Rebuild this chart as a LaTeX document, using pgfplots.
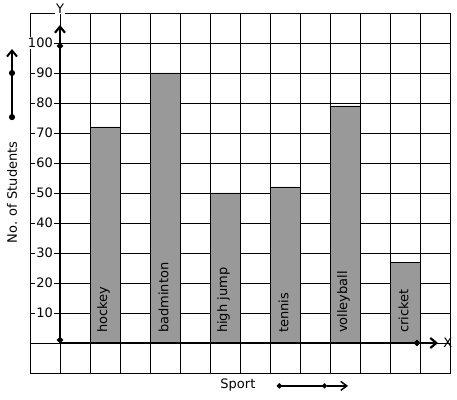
\documentclass[border=0pt]{standalone}
\usepackage{fontspec}
\setmainfont{DejaVu Sans}
\usepackage{pgfplots}
\pgfplotsset{compat=1.18}
\usetikzlibrary{arrows.meta,calc}
\definecolor{bargray}{RGB}{153,153,153}
\begin{document}
\fontsize{13pt}{15pt}\selectfont
\begin{tikzpicture}
\begin{axis}[
  scale only axis, width=420pt, height=360pt,
  xmin=-1, xmax=13, ymin=-10, ymax=110,
  xtick={-1,0,...,13}, xticklabels={},
  ytick={10,20,...,100},
  yticklabels={10,20,30,40,50,60,70,80,90,100},
  extra y ticks={-10,0,110},
  extra y tick labels={},
  extra y tick style={grid=major, yticklabel style={fill=none, draw=none}},
  major tick length=0pt,
  grid=major,
  major grid style={black, line width=0.8pt},
  axis line style={black, line width=0.8pt},
  yticklabel style={fill=white, inner sep=1pt, xshift=24pt, font=\fontsize{13pt}{15pt}\selectfont},
  clip=false,
]
\addplot[ybar, bar width=1, fill=bargray, draw=black, line width=0.8pt] coordinates {
  (1.5,72) (3.5,90) (5.5,50) (7.5,52) (9.5,79) (11.5,27)
};
% axes
\draw[line width=2.2pt, {Circle[length=6pt]}-{Circle[length=6pt]}] (axis cs:0,0) -- (axis cs:0,100);
\draw[line width=2.2pt, -{Straight Barb[length=6pt,width=10pt]}] (axis cs:0,100) -- (axis cs:0,106);
\draw[line width=2.2pt, -{Circle[length=6pt]}] (axis cs:0,0) -- (axis cs:12,0);
\draw[line width=2.2pt, -{Straight Barb[length=6pt,width=10pt]}] (axis cs:12,0) -- (axis cs:12.6,0);
\node[fill=white, inner sep=1pt] at (axis cs:0,111.5) {Y};
\node at (axis cs:12.93,0) {X};
% bar labels
\node[rotate=90, anchor=west, inner sep=0pt] at (axis cs:1.45,3.3) {hockey};
\node[rotate=90, anchor=west, inner sep=0pt] at (axis cs:3.45,3.3) {badminton};
\node[rotate=90, anchor=west, inner sep=0pt] at (axis cs:5.45,3.3) {high jump};
\node[rotate=90, anchor=west, inner sep=0pt] at (axis cs:7.45,3.3) {tennis};
\node[rotate=90, anchor=west, inner sep=0pt] at (axis cs:9.45,3.3) {volleyball};
\node[rotate=90, anchor=west, inner sep=0pt] at (axis cs:11.45,3.3) {cricket};
% left decoration
\node[rotate=90] at (axis cs:-1.6,50.2) {No. of Students};
\draw[line width=2pt, {Circle[length=6pt]}-{Circle[length=6pt]}] (axis cs:-1.6,74.3) -- (axis cs:-1.6,91);
\draw[line width=2pt, -{Straight Barb[length=6pt,width=10pt]}] (axis cs:-1.6,91) -- (axis cs:-1.6,98);
% bottom decoration
\node at (axis cs:5.93,-14) {Sport};
\draw[line width=1.5pt, {Circle[length=5pt]}-{Circle[length=5pt]}] (axis cs:7.23,-14.3) -- (axis cs:8.9,-14.3);
\draw[line width=1.5pt, -{Straight Barb[length=6pt,width=9pt]}] (axis cs:8.9,-14.3) -- (axis cs:9.6,-14.3);
\end{axis}
\pgfresetboundingbox
\path[use as bounding box] ($(current axis.south west)+(-30pt,-26pt)$) rectangle ($(current axis.north east)+(7pt,13pt)$);
\end{tikzpicture}
\end{document}
